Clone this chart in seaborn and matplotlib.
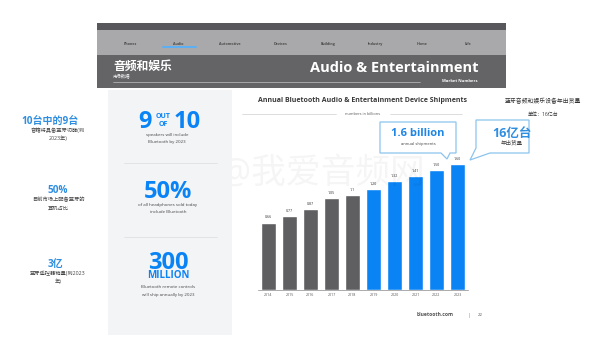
"""Bluetooth audio & entertainment slide: annual device shipments (billions)."""
import matplotlib
matplotlib.use("Agg")
import matplotlib.pyplot as plt
from matplotlib.patches import Rectangle, Polygon
import seaborn as sns

sns.set_style("white")
plt.rcParams["font.family"] = ["Open Sans", "Noto Sans CJK SC", "DejaVu Sans"]

# -------- data --------
years = ["2014", "2015", "2016", "2017", "2018", "2019", "2020", "2021", "2022", "2023"]
shipments = [0.66, 0.77, 0.87, 1.05, 1.10, 1.20, 1.32, 1.41, 1.50, 1.60]
value_labels = ["0.66", "0.77", "0.87", "1.05", "1.1", "1.20", "1.32", "1.41", "1.50", "1.60"]
status = ["actual"] * 5 + ["forecast"] * 5

nav_items = ["Phones", "Audio", "Automotive", "Devices", "Building", "Industry", "Home", "Life"]

stat_big = ["50%", "300"]
stat_cn_head = ["10台中的9台", "50%", "3亿"]
stat_cn_body = [["音箱将具备蓝牙功能(到", "2023年)"],
                ["目前市场上配备蓝牙的", "耳机占比"],
                ["蓝牙遥控器销量(到2023", "年)"]]

W, H = 616, 341
BLUE = "#0a84f5"
BLUE_CN = "#2f8ee0"
GRAY_BAR = "#5f5f62"
BASE = -0.42   # value axis does not start at zero in the original

fig = plt.figure(figsize=(W / 100, H / 100), dpi=100)
fig.patch.set_facecolor("white")


def fx(x):
    return x / W


def fy(y):
    return 1 - y / H


def txt(x, y, s, size, color="#444444", weight="normal", ha="center", **kw):
    fig.text(fx(x), fy(y), s, fontsize=size, color=color, weight=weight,
             ha=ha, va="center", **kw)


def rect(x0, y0, x1, y1, color, **kw):
    fig.add_artist(Rectangle((fx(x0), fy(y1)), fx(x1) - fx(x0), fy(y0) - fy(y1),
                             transform=fig.transFigure, facecolor=color,
                             edgecolor="none", **kw))


# -------- header bands --------
rect(97, 23, 506, 30, "#58585c")
rect(97, 30, 506, 55, "#a9a9ab")
rect(97, 55, 506, 88, "#646467")
nav_x = [130, 178, 230, 280, 328, 375, 422, 468]
for x, name in zip(nav_x, nav_items):
    txt(x, 44, name, 2.6, color="#4a4a4a", weight="bold")
fig.add_artist(plt.Line2D([fx(163), fx(196)], [fy(47), fy(47)], color="#5ab0f5",
                          lw=1.4, transform=fig.transFigure))

txt(113, 66, "音频和娱乐", 8.5, color="white", weight="bold", ha="left")
txt(113, 76, "市场数据", 3.2, color="white", ha="left")
fig.add_artist(plt.Line2D([fx(113), fx(420)], [fy(82), fy(82)], color="#d8d8d8",
                          lw=0.4, transform=fig.transFigure))
txt(478, 68, "Audio & Entertainment", 10.5, color="white", weight="bold", ha="right")
txt(478, 81, "Market Numbers", 3.0, color="white", weight="bold", ha="right")

# -------- left stats panel --------
rect(108, 90, 232, 335, "#f3f4f6")
txt(145, 122, "9", 17, color=BLUE, weight="bold")
txt(163, 117, "OUT", 5, color=BLUE, weight="bold")
txt(163, 125, "OF", 5, color=BLUE, weight="bold")
txt(187, 122, "10", 17, color=BLUE, weight="bold")
txt(167, 135, "speakers will include", 3.2)
txt(167, 142, "Bluetooth by 2023", 3.2)
for y in (163, 237):
    fig.add_artist(plt.Line2D([fx(124), fx(217)], [fy(y), fy(y)], color="#dcdcdc",
                              lw=0.5, transform=fig.transFigure))
txt(168, 192, stat_big[0], 17, color=BLUE, weight="bold")
txt(168, 205, "of all headphones sold today", 3.2)
txt(168, 212, "include Bluetooth", 3.2)
txt(168, 263, stat_big[1], 17, color=BLUE, weight="bold")
txt(168, 276, "MILLION", 7, color=BLUE, weight="bold")
txt(168, 287, "Bluetooth remote controls", 3.2)
txt(168, 295, "will ship annually by 2023", 3.2)

# -------- outer chinese notes --------
for (xc, yh), head, body in zip([(50, 121), (58, 191), (55, 264)], stat_cn_head, stat_cn_body):
    txt(xc, yh, head, 7.2, color=BLUE_CN, weight="bold")
    txt(58, yh + 9, body[0], 3.8, color="#444444")
    txt(58, yh + 17, body[1], 3.8, color="#444444")

# -------- watermark (faint, sits behind the chart) --------
txt(322, 174, "@我爱音频网", 25, color="#000000", alpha=0.04, zorder=0)

# -------- bar chart --------
ax = fig.add_axes([258 / W, (H - 290) / H, 210 / W, 132.3 / H])
sns.barplot(x=years, y=shipments, hue=status, palette={"actual": GRAY_BAR, "forecast": BLUE},
            dodge=False, legend=False, width=0.71, saturation=1, ax=ax)
bars = [p for p in ax.patches if p.get_height() > 0]
for p, lab in zip(bars, value_labels):
    top = p.get_height()
    p.set_y(BASE)
    p.set_height(top - BASE)
    ax.text(p.get_x() + p.get_width() / 2, top + 0.05, lab, ha="center", va="bottom",
            fontsize=2.6, color="#333333")
ax.set_ylim(BASE, 1.7)
ax.set_xlim(-0.5, 9.5)
ax.set_yticks([])
ax.set_xlabel("")
ax.set_ylabel("")
ax.tick_params(axis="x", length=0, pad=2.5, labelsize=2.6, labelcolor="#555555")
ax.patch.set_alpha(0)
for side in ("top", "right", "left"):
    ax.spines[side].set_visible(False)
ax.spines["bottom"].set_color("#8a8a8a")
ax.spines["bottom"].set_linewidth(0.5)

txt(363, 101, "Annual Bluetooth Audio & Entertainment Device Shipments", 5.0,
    color="#3a3a3a", weight="bold")
fig.add_artist(plt.Line2D([fx(242), fx(336)], [fy(114), fy(114)], color="#d0d0d0",
                          lw=0.5, transform=fig.transFigure))
fig.add_artist(plt.Line2D([fx(390), fx(462)], [fy(114), fy(114)], color="#d0d0d0",
                          lw=0.5, transform=fig.transFigure))
txt(363, 114, "numbers in billions", 2.8, color="#555555")

# callouts
call1 = [(380, 122), (456, 122), (456, 153), (450, 153), (447, 159), (441, 153), (380, 153)]
call2 = [(476, 120), (529, 120), (529, 153), (490, 153), (470, 160), (476, 148)]
for pts in (call1, call2):
    fig.add_artist(Polygon([(fx(x), fy(y)) for x, y in pts], closed=True,
                           transform=fig.transFigure, facecolor="white",
                           edgecolor="#8cc4ee", lw=0.9))
txt(418, 134, "1.6 billion", 8, color="#1f86e6", weight="bold")
txt(418, 144, "annual shipments", 3.0, color="#444444")
txt(512, 133, "16亿台", 9, color=BLUE_CN, weight="bold")
txt(512, 143, "年出货量", 4.0, color="#444444")

txt(543, 101, "蓝牙音频和娱乐设备年出货量", 4.2, color="#333333")
txt(543, 115, "单位：16亿台", 3.6, color="#333333")

# footer
txt(435, 315, "bluetooth.com", 3.6, color="#555555", weight="bold")
txt(469, 315, "|", 3.6, color="#777777")
txt(480, 315, "22", 3.2, color="#555555")

fig.savefig("out.png", dpi=100)
